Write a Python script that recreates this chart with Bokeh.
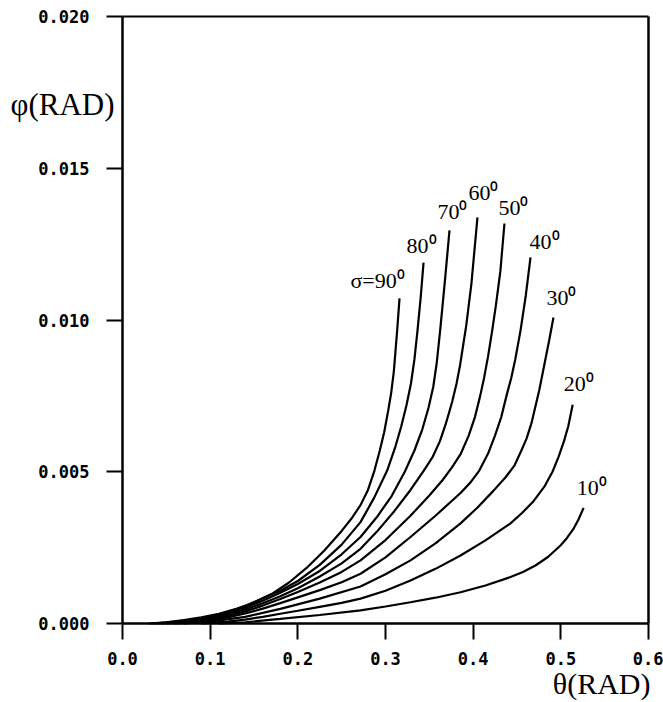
from bokeh.plotting import figure
from bokeh.models import Range1d, FixedTicker, PrintfTickFormatter, ColumnDataSource, Label, LinearAxis
from bokeh.embed import file_html
from bokeh.resources import INLINE
from bokeh.core.properties import value

# ---- data ----
sigma_deg = [10, 20, 30, 40, 50, 60, 70, 80, 90]
curve_labels = ["10\u2070", "20\u2070", "30\u2070", "40\u2070", "50\u2070",
                "60\u2070", "70\u2070", "80\u2070", "\u03c3=90\u2070"]

theta_10 = [0.11, 0.14, 0.18, 0.225, 0.2715, 0.30, 0.3285, 0.357, 0.3856, 0.414, 0.4426,
            0.4568, 0.471, 0.4853, 0.4996, 0.5068, 0.514, 0.52, 0.526]
phi_10 = [0.0, 0.00004, 0.00015, 0.00028, 0.00043, 0.00056, 0.0007, 0.00085, 0.00103, 0.00125, 0.00153,
          0.0017, 0.00191, 0.00219, 0.00257, 0.00281, 0.0031, 0.00342, 0.00381]

theta_20 = [0.09, 0.12, 0.14, 0.16, 0.18, 0.20, 0.225, 0.25, 0.2715, 0.30, 0.3285, 0.357, 0.3856,
            0.414, 0.4426, 0.456, 0.468, 0.481, 0.4905, 0.4975, 0.5035, 0.5085, 0.5135]
phi_20 = [0.0, 0.00006, 0.00013, 0.00022, 0.00032, 0.00042, 0.00055, 0.00068, 0.00082, 0.00108, 0.00142,
          0.0018, 0.00224, 0.00274, 0.0033, 0.00365, 0.004, 0.0045, 0.005, 0.0055, 0.006, 0.0065, 0.00721]

theta_30 = [0.07, 0.10, 0.14, 0.18, 0.225, 0.2715, 0.30, 0.3285, 0.357, 0.3856, 0.405, 0.423, 0.437,
            0.447, 0.455, 0.461, 0.4665, 0.4755, 0.4865, 0.4916]
phi_30 = [0.0, 0.00006, 0.00022, 0.00048, 0.00082, 0.00122, 0.00162, 0.00208, 0.00264, 0.0033, 0.00382,
          0.00437, 0.00482, 0.0052, 0.0057, 0.0061, 0.0066, 0.0077, 0.0093, 0.01008]

theta_40 = [0.06, 0.08, 0.10, 0.12, 0.14, 0.16, 0.18, 0.20, 0.225, 0.25, 0.2715, 0.30, 0.3285, 0.357,
            0.3856, 0.397, 0.407, 0.417, 0.425, 0.432, 0.438, 0.4435, 0.448, 0.454, 0.46, 0.4654]
phi_40 = [0.0, 0.00003, 0.0001, 0.0002, 0.00033, 0.00049, 0.00067, 0.00086, 0.0011, 0.00136, 0.00164,
          0.00218, 0.00285, 0.00355, 0.0043, 0.00465, 0.00504, 0.0056, 0.0062, 0.0068, 0.0075, 0.0081,
          0.0087, 0.00965, 0.0108, 0.01206]

theta_50 = [0.05, 0.07, 0.10, 0.12, 0.14, 0.16, 0.18, 0.20, 0.225, 0.25, 0.2715, 0.30, 0.3285, 0.35,
            0.365, 0.376, 0.386, 0.395, 0.402, 0.408, 0.4125, 0.417, 0.4217, 0.426, 0.431, 0.4357]
phi_50 = [0.0, 0.00003, 0.00014, 0.00025, 0.0004, 0.00059, 0.00081, 0.00104, 0.00135, 0.0017, 0.00208,
          0.00275, 0.00355, 0.00422, 0.00472, 0.00515, 0.0056, 0.0062, 0.0068, 0.0075, 0.0081, 0.0088,
          0.00965, 0.0105, 0.0116, 0.01318]

theta_60 = [0.045, 0.07, 0.10, 0.12, 0.14, 0.16, 0.18, 0.20, 0.225, 0.25, 0.2715, 0.29, 0.31, 0.3285,
            0.3437, 0.354, 0.362, 0.369, 0.376, 0.381, 0.385, 0.392, 0.398, 0.4049]
phi_60 = [0.0, 0.00005, 0.00017, 0.0003, 0.00046, 0.00067, 0.0009, 0.00116, 0.00155, 0.00198, 0.00246,
          0.00302, 0.0037, 0.0044, 0.00504, 0.0055, 0.006, 0.0066, 0.0073, 0.0079, 0.0085, 0.0098,
          0.0112, 0.01338]

theta_70 = [0.04, 0.06, 0.08, 0.10, 0.12, 0.14, 0.16, 0.18, 0.20, 0.225, 0.25, 0.2715, 0.29, 0.307,
            0.322, 0.333, 0.342, 0.349, 0.3545, 0.3585, 0.3625, 0.3678, 0.373]
phi_70 = [0.0, 0.00004, 0.0001, 0.0002, 0.00034, 0.00052, 0.00075, 0.00101, 0.0013, 0.00173, 0.00228,
          0.00285, 0.0035, 0.0042, 0.005, 0.0057, 0.0064, 0.0071, 0.0078, 0.0086, 0.0097, 0.0113, 0.01295]

theta_80 = [0.035, 0.06, 0.08, 0.10, 0.12, 0.14, 0.16, 0.18, 0.20, 0.225, 0.25, 0.2715, 0.287, 0.3019,
            0.311, 0.318, 0.324, 0.329, 0.333, 0.3365, 0.34, 0.3434]
phi_80 = [0.0, 0.00006, 0.00013, 0.00023, 0.00038, 0.00058, 0.00083, 0.00108, 0.0014, 0.00193, 0.0026,
          0.00334, 0.00414, 0.00504, 0.0058, 0.0065, 0.0072, 0.0079, 0.0087, 0.00965, 0.0107, 0.01189]

theta_90 = [0.03, 0.05, 0.07, 0.09, 0.11, 0.13, 0.15, 0.17, 0.19, 0.21, 0.23, 0.25, 0.261, 0.2715,
            0.28, 0.2874, 0.2935, 0.2985, 0.303, 0.3065, 0.3095, 0.3133, 0.316]
phi_90 = [0.0, 0.00004, 0.00011, 0.0002, 0.00032, 0.00048, 0.00069, 0.00097, 0.00135, 0.00183, 0.0024,
          0.00305, 0.00345, 0.0039, 0.0044, 0.00504, 0.0057, 0.0063, 0.007, 0.0076, 0.0083, 0.00965, 0.01071]

x_ticks = [0.0, 0.1, 0.2, 0.3, 0.4, 0.5, 0.6]
y_ticks = [0.000, 0.005, 0.010, 0.015, 0.020]
x_title = "\u03b8(RAD)"
y_title = "\u03c6(RAD)"

thetas = [theta_10, theta_20, theta_30, theta_40, theta_50, theta_60, theta_70, theta_80, theta_90]
phis = [phi_10, phi_20, phi_30, phi_40, phi_50, phi_60, phi_70, phi_80, phi_90]

# ---- layout / style ----
W, H = 663, 702
box_left, box_right, box_top, box_bottom = 122, 648, 16, 623   # pixel box of the plotting area
x0, x1 = x_ticks[0], x_ticks[-1]
y0, y1 = y_ticks[0], y_ticks[-1]
xs = (x1 - x0) / (box_right - box_left)
ys = (y1 - y0) / (box_bottom - box_top)
x_range = Range1d(x0 - box_left * xs, x1 + (W - box_right) * xs)
y_range = Range1d(y0 - (H - box_bottom) * ys, y1 + box_top * ys)

label_dx = [8, 6, 8, 14, 9, 6, 3, -2, -22]
label_dy = [-20, -21, -20, -16, -16, -25, -19, -17, -18]

p = figure(width=W, height=H, output_backend="svg", toolbar_location=None,
           x_range=x_range, y_range=y_range,
           min_border_left=0, min_border_right=0, min_border_top=0, min_border_bottom=0)

p.background_fill_color = "white"
p.border_fill_color = "white"
p.outline_line_color = None
p.xgrid.grid_line_color = None
p.ygrid.grid_line_color = None

xa = p.xaxis[0]
ya = p.yaxis[0]
xa.fixed_location = y0
ya.fixed_location = x0
xa.bounds = (x0, x1)
ya.bounds = (y0, y1)

for ax in (xa, ya):
    ax.axis_line_width = 2.5
    ax.axis_line_color = "black"
    ax.major_tick_line_width = 2
    ax.major_tick_line_color = "black"
    ax.major_tick_out = 16
    ax.major_tick_in = 0
    ax.minor_tick_line_color = None
    ax.major_label_text_font = "DejaVu Sans Mono"
    ax.major_label_text_font_style = "bold"
    ax.major_label_text_font_size = "17px"
    ax.major_label_text_color = "black"

xa.ticker = FixedTicker(ticks=x_ticks)
ya.ticker = FixedTicker(ticks=y_ticks)
xa.formatter = PrintfTickFormatter(format="%.1f")
ya.formatter = PrintfTickFormatter(format="%.3f")
xa.major_label_standoff = 12
ya.major_label_standoff = 17

top_axis = LinearAxis(fixed_location=y1, bounds=(x0, x1), ticker=FixedTicker(ticks=[]),
                      axis_line_width=2, axis_line_color="black",
                      major_tick_line_color=None, minor_tick_line_color=None,
                      major_label_text_font_size="0px")
right_axis = LinearAxis(fixed_location=x1, bounds=(y0, y1), ticker=FixedTicker(ticks=[]),
                        axis_line_width=2.5, axis_line_color="black",
                        major_tick_line_color=None, minor_tick_line_color=None,
                        major_label_text_font_size="0px")
p.add_layout(top_axis, "above")
p.add_layout(right_axis, "right")

for th, ph in zip(thetas, phis):
    p.line(th, ph, line_color="black", line_width=2.2)

src = ColumnDataSource(dict(
    x=[t[-1] for t in thetas], y=[f[-1] for f in phis],
    text=curve_labels, dx=label_dx, dy=label_dy))
p.text(x="x", y="y", text="text", x_offset="dx", y_offset="dy", source=src,
       text_font=value("Liberation Serif"), text_font_size="22px",
       text_align="center", text_baseline="middle", text_color="black")

# axis titles, placed in canvas pixels (origin bottom-left)
p.add_layout(Label(x=62, y=H - 104, x_units="screen", y_units="screen",
                   text=y_title, text_font="Liberation Serif",
                   text_font_size="31px", text_align="center", text_baseline="middle",
                   text_color="black"))
p.add_layout(Label(x=650, y=H - 683, x_units="screen", y_units="screen",
                   text=x_title, text_font="Liberation Serif",
                   text_font_size="30px", text_align="right", text_baseline="middle",
                   text_color="black"))

open("out.html", "w").write(file_html(p, INLINE))
